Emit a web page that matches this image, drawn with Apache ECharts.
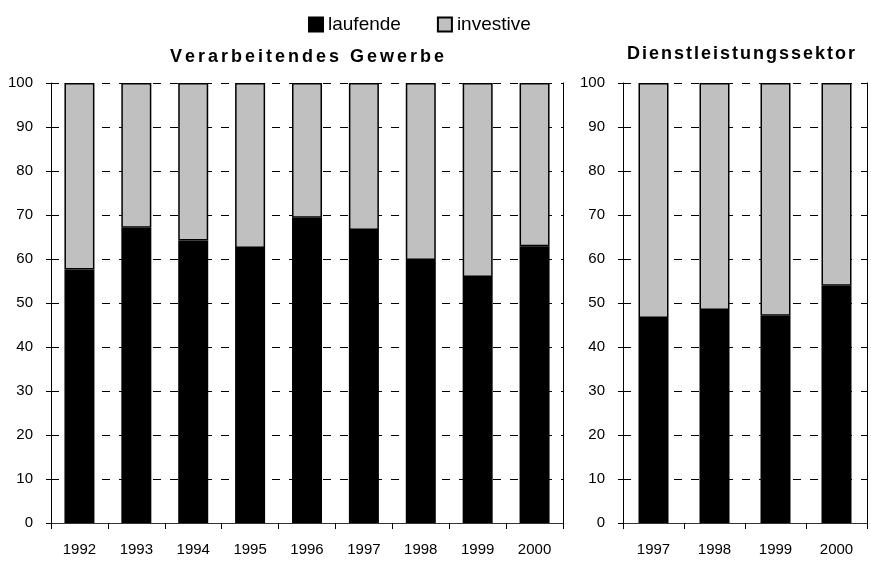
<!DOCTYPE html>
<html>
<head>
<meta charset="utf-8">
<script src="https://cdn.jsdelivr.net/npm/echarts@6/dist/echarts.min.js"></script>
<style>
  html, body { margin: 0; padding: 0; background: #fff; }
  #chart { width: 871px; height: 561px; }
</style>
</head>
<body>
<div id="chart"></div>
<script>
// Verarbeitendes Gewerbe
const yearsVG = ['1992', '1993', '1994', '1995', '1996', '1997', '1998', '1999', '2000'];
const laufendeVG = [57.6, 67.1, 64.2, 62.5, 69.4, 66.6, 59.8, 55.9, 62.9];
const investiveVG = [42.4, 32.9, 35.8, 37.5, 30.6, 33.4, 40.2, 44.1, 37.1];

// Dienstleistungssektor
const yearsDL = ['1997', '1998', '1999', '2000'];
const laufendeDL = [46.6, 48.4, 47.1, 53.9];
const investiveDL = [53.4, 51.6, 52.9, 46.1];

const yTicks = {min: 0, max: 100, interval: 10};

const font = 'Liberation Sans, Arial, sans-serif';

// spread characters a little, like the original title rendering
function spaced(str) {
  return str.split('').map(c => '{c|' + c + '}').join('');
}

function titleStyle(pad) {
  return {
    fill: '#000',
    font: 'bold 18px ' + font,
    rich: {c: {fontFamily: font, fontWeight: 'bold', fontSize: 18, padding: [0, pad, 0, pad]}}
  };
}

function categoryAxis(gridIndex, data) {
  return {
    type: 'category',
    gridIndex: gridIndex,
    data: data,
    axisLine: {lineStyle: {color: '#000', width: 1}},
    axisTick: {show: true, length: 6, alignWithLabel: false, lineStyle: {color: '#000'}},
    axisLabel: {color: '#000', fontFamily: font, fontSize: 15, margin: 19}
  };
}

function topLine(gridIndex, data) {
  return {
    type: 'category',
    gridIndex: gridIndex,
    data: data,
    position: 'top',
    axisLine: {lineStyle: {color: '#333', width: 1}},
    axisTick: {show: false},
    axisLabel: {show: false}
  };
}

function valueAxis(gridIndex) {
  return {
    type: 'value',
    gridIndex: gridIndex,
    min: yTicks.min,
    max: yTicks.max,
    interval: yTicks.interval,
    axisLine: {show: true, lineStyle: {color: '#000', width: 1}},
    axisTick: {show: true, length: 5, lineStyle: {color: '#000'}},
    axisLabel: {color: '#000', fontFamily: font, fontSize: 15, margin: 18},
    splitLine: {show: true, lineStyle: {color: '#000', type: [8, 9], width: 1}}
  };
}

function rightBorder(gridIndex) {
  return {
    type: 'value',
    gridIndex: gridIndex,
    position: 'right',
    min: yTicks.min,
    max: yTicks.max,
    interval: yTicks.interval,
    axisLine: {show: true, lineStyle: {color: '#000', width: 1}},
    axisTick: {show: false},
    axisLabel: {show: false},
    splitLine: {show: false}
  };
}

function barSeries(name, data, axisIndex, color, borderColor) {
  return {
    name: name,
    type: 'bar',
    stack: 'total' + axisIndex,
    xAxisIndex: axisIndex,
    yAxisIndex: axisIndex,
    data: data,
    barWidth: 30,
    itemStyle: {color: color, borderColor: borderColor, borderWidth: 1.5},
    emphasis: {disabled: true}
  };
}

const chart = echarts.init(document.getElementById('chart'), null, {renderer: 'canvas'});

const option = {
  backgroundColor: '#fff',
  animation: false,
  legend: {
    left: 303,
    top: 10,
    itemWidth: 14,
    itemHeight: 14,
    itemGap: 36,
    icon: 'rect',
    textStyle: {color: '#000', fontFamily: font, fontSize: 19},
    data: ['laufende', 'investive']
  },
  grid: [
    {left: 51, right: 308, top: 83, bottom: 38},
    {left: 623, right: 4, top: 83, bottom: 38}
  ],
  xAxis: [
    categoryAxis(0, yearsVG),
    categoryAxis(1, yearsDL),
    topLine(0, yearsVG),
    topLine(1, yearsDL)
  ],
  yAxis: [
    valueAxis(0),
    valueAxis(1),
    rightBorder(0),
    rightBorder(1)
  ],
  graphic: [
    {
      type: 'text', x: 307, y: 57,
      style: Object.assign({text: spaced('Verarbeitendes Gewerbe'), align: 'center', verticalAlign: 'middle'}, titleStyle(1.5))
    },
    {
      type: 'text', x: 741, y: 54,
      style: Object.assign({text: spaced('Dienstleistungssektor'), align: 'center', verticalAlign: 'middle'}, titleStyle(1.0))
    }
  ],
  series: [
    barSeries('laufende', laufendeVG, 0, '#000', '#000'),
    barSeries('investive', investiveVG, 0, '#c0c0c0', '#000'),
    barSeries('laufende', laufendeDL, 1, '#000', '#000'),
    barSeries('investive', investiveDL, 1, '#c0c0c0', '#000')
  ]
};

chart.setOption(option);
</script>
</body>
</html>
